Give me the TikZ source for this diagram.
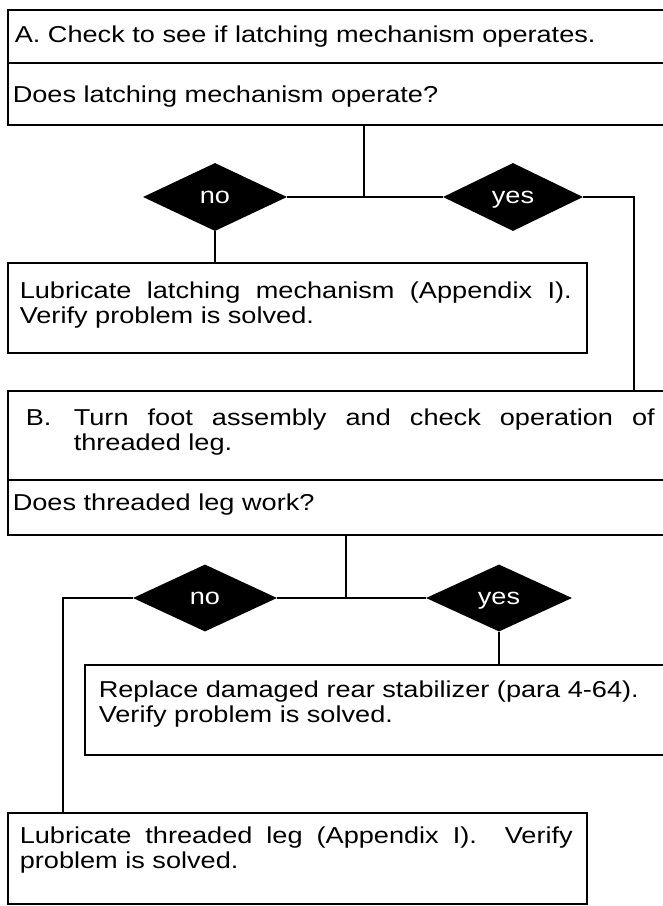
\documentclass[tikz,border=0pt]{standalone}
\usepackage{fontspec}
\setmainfont{Liberation Sans}[FakeStretch=1.18]
\usetikzlibrary{shapes.geometric,positioning}
\newcommand{\fs}{\fontsize{23pt}{24.5pt}\selectfont}
% box text: {height}{first baseline}{width}{text}
\newcommand{\celltext}[4]{\parbox[c][#1][t]{#3}{\rule{0pt}{#2}#4}}
\tikzset{
  cell/.style={draw=black, line width=1.6pt, anchor=north west,
               inner xsep=5pt, inner ysep=0pt, font=\fs},
  act/.style={cell, inner xsep=12pt},
  dmd/.style={diamond, fill=black, text=white, inner sep=0pt, font=\fs,
              text height=12pt, text depth=0pt,
              minimum width=144pt, minimum height=68pt},
  ln/.style={draw=black, line width=1.6pt},
}

\begin{document}
\begin{tikzpicture}[x=1pt, y=-1pt]
\useasboundingbox (0,0) rectangle (663,906);

% step A
\node[cell] (rowA1) at (7,9)
  {\celltext{53pt}{33pt}{653pt}{\hspace*{2pt}A. Check to see if latching mechanism operates.}};
\node[cell] (rowA2) at (7,62)
  {\celltext{62pt}{40pt}{653pt}{Does latching mechanism operate?}};
\node[dmd] (noA) at (215,197) {no};
\node[dmd, minimum width=140pt] (yesA) at (513,197) {yes};
\node[act] (lubA) at (7,262)
  {\celltext{90pt}{36pt}{555pt}{\makebox[552pt][s]{Lubricate latching mechanism (Appendix I).}\\
   Verify problem is solved.}};

% step B
\node[cell] (rowB1) at (7,390)
  {\celltext{89pt}{35pt}{653pt}{\hspace*{13pt}\makebox[48pt][l]{B.}\makebox[581pt][s]{Turn foot assembly and check operation of}\\
   \hspace*{61pt}threaded leg.}};
\node[cell] (rowB2) at (7,479)
  {\celltext{55pt}{31pt}{653pt}{Does threaded leg work?}};
\node[dmd, minimum height=67pt] (noB) at (205,598) {no};
\node[dmd, minimum width=146pt, minimum height=67pt] (yesB) at (499,598) {yes};
\node[cell, inner xsep=14pt] (repl) at (84,664)
  {\celltext{90pt}{33pt}{560pt}{Replace damaged rear stabilizer (para 4-64).\\
   Verify problem is solved.}};
\node[act] (lubB) at (7,812)
  {\celltext{91pt}{31pt}{555pt}{\makebox[553pt][s]{Lubricate threaded leg (Appendix I).\ \ Verify}\\
   problem is solved.}};

% connectors
\coordinate (jA) at (364,197);
\coordinate (kA) at (634,0);
\draw[ln] (jA |- rowA2.south) -- (jA);
\draw[ln] (noA.east) -- (yesA.west);
\draw[ln] (noA.south) -- (noA.south |- lubA.north);
\draw[ln] (yesA.east) -| (kA |- rowB1.north);

\coordinate (jB) at (346,598);
\coordinate (kB) at (63,0);
\draw[ln] (jB |- rowB2.south) -- (jB);
\draw[ln] (noB.east) -- (yesB.west);
\draw[ln] (noB.west) -| (kB |- lubB.north);
\draw[ln] (yesB.south) -- (yesB.south |- repl.north);
\end{tikzpicture}
\end{document}
